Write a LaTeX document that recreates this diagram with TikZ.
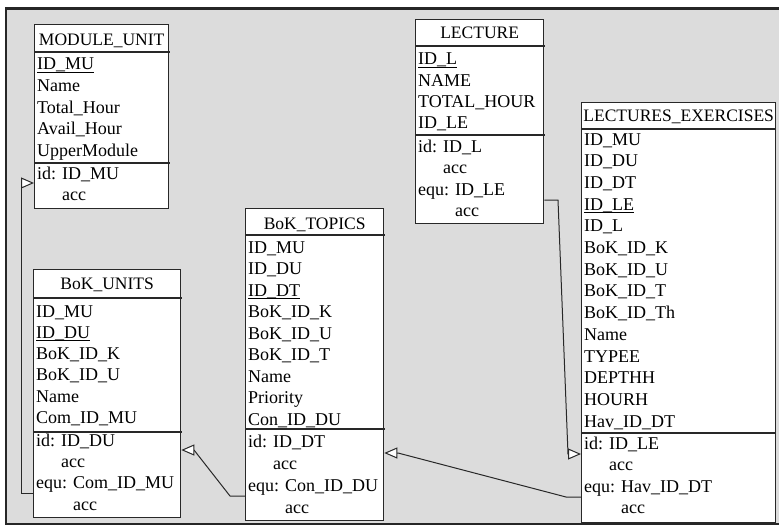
\documentclass[tikz,border=0pt]{standalone}
\usepackage{fontspec}
\setmainfont{Liberation Serif}
\usetikzlibrary{arrows.meta}
\newcommand\keyul[1]{\setbox0\hbox{#1}\rlap{\vrule height -1.6pt depth 2.7pt width \wd0}\box0}
\definecolor{bg}{RGB}{220,220,220}
\definecolor{ink}{RGB}{40,40,40}
\begin{document}
\begin{tikzpicture}[x=1pt,y=-1pt,
  tbl/.style={draw=ink, line width=1.3pt, fill=white, inner sep=0pt, anchor=north west},
  sepline/.style={draw=ink, line width=1.3pt},
  hdr/.style={anchor=base, inner sep=0pt, font=\fontsize{17.5}{21}\selectfont},
  row/.style={anchor=base west, inner sep=0pt, font=\fontsize{18}{21}\selectfont},
  link/.style={draw=ink, line width=1pt},
  tip/.style={-{Triangle[length=13pt,width=11pt,line width=1pt,fill=white]}},
]
\useasboundingbox (0,0) rectangle (779,527);
\fill[white] (0,0) rectangle (779,527);
\draw[line width=2.5pt, draw=black!85, fill=bg] (6,8.5) rectangle (795,524);

% MODULE_UNIT
\node[tbl, minimum width=134pt, minimum height=184pt] (mu) at (34,24) {};
\draw[sepline] (mu.west |- 0,52) -- ++(136,0);
\draw[sepline] (mu.west |- 0,163) -- ++(136,0);
\node[hdr] (mu-h) at (mu.north |- 0,46) {MODULE\_UNIT};
\foreach \t [count=\i from 0] in {\keyul{ID\_MU},Name,Total\_Hour,Avail\_Hour,UpperModule}
  \node[row] (mu-a\i) at (37,{70+\i*21.5}) {\t};
\node[row] (mu-k1) at (37,179) {id: ID\_MU};
\node[row] (mu-k2) at (37,200) {\hphantom{id: }acc};

% BoK_UNITS
\node[tbl, minimum width=147pt, minimum height=248pt] (bu) at (33,269) {};
\draw[sepline] (bu.west |- 0,298) -- ++(149,0);
\draw[sepline] (bu.west |- 0,432) -- ++(149,0);
\node[hdr] (bu-h) at (bu.north |- 0,289) {BoK\_UNITS};
\foreach \t [count=\i from 0] in {ID\_MU,\keyul{ID\_DU},BoK\_ID\_K,BoK\_ID\_U,Name,Com\_ID\_MU}
  \node[row] (bu-a\i) at (36,{317+\i*21.3}) {\t};
\node[row] (bu-k1) at (36,446) {id: ID\_DU};
\node[row] (bu-k2) at (36,467) {\hphantom{id: }acc};
\node[row] (bu-k3) at (36,488.5) {equ: Com\_ID\_MU};
\node[row] (bu-k4) at (36,510) {\hphantom{equ: }acc};

% BoK_TOPICS
\node[tbl, minimum width=138pt, minimum height=312pt] (bt) at (245,208) {};
\draw[sepline] (bt.west |- 0,235) -- ++(140,0);
\draw[sepline] (bt.west |- 0,429) -- ++(140,0);
\node[hdr] (bt-h) at (bt.north |- 0,229) {BoK\_TOPICS};
\foreach \t [count=\i from 0] in {ID\_MU,ID\_DU,\keyul{ID\_DT},BoK\_ID\_K,BoK\_ID\_U,BoK\_ID\_T,Name,Priority,Con\_ID\_DU}
  \node[row] (bt-a\i) at (248,{253+\i*21.5}) {\t};
\node[row] (bt-k1) at (248,447) {id: ID\_DT};
\node[row] (bt-k2) at (248,469) {\hphantom{id: }acc};
\node[row] (bt-k3) at (248,491) {equ: Con\_ID\_DU};
\node[row] (bt-k4) at (248,513) {\hphantom{equ: }acc};

% LECTURE
\node[tbl, minimum width=128pt, minimum height=204pt] (lec) at (415,19) {};
\draw[sepline] (lec.west |- 0,46) -- ++(130,0);
\draw[sepline] (lec.west |- 0,135) -- ++(130,0);
\node[hdr] (lec-h) at (lec.north |- 0,39) {LECTURE};
\foreach \t [count=\i from 0] in {\keyul{ID\_L},NAME,TOTAL\_HOUR,ID\_LE}
  \node[row] (lec-a\i) at (418,{65+\i*21.3}) {\t};
\node[row] (lec-k1) at (418,152) {id: ID\_L};
\node[row] (lec-k2) at (418,173.5) {\hphantom{id: }acc};
\node[row] (lec-k3) at (418,195) {equ: ID\_LE};
\node[row] (lec-k4) at (418,216) {\hphantom{equ: }acc};

% LECTURES_EXERCISES
\node[tbl, minimum width=194pt, minimum height=420pt] (le) at (581,102) {};
\draw[sepline] (le.west |- 0,129) -- ++(194,0);
\draw[sepline] (le.west |- 0,433) -- ++(194,0);
\node[hdr] (le-h) at (le.north |- 0,121) {LECTURES\_EXERCISES};
\foreach \t [count=\i from 0] in {ID\_MU,ID\_DU,ID\_DT,\keyul{ID\_LE},ID\_L,BoK\_ID\_K,BoK\_ID\_U,BoK\_ID\_T,BoK\_ID\_Th,Name,TYPEE,DEPTHH,HOURH,Hav\_ID\_DT}
  \node[row] (le-a\i) at (584,{145+\i*21.7}) {\t};
\node[row] (le-k1) at (584,449) {id: ID\_LE};
\node[row] (le-k2) at (584,470.5) {\hphantom{id: }acc};
\node[row] (le-k3) at (584,492) {equ: Hav\_ID\_DT};
\node[row] (le-k4) at (584,513.5) {\hphantom{equ: }acc};

% connectors
\draw[link,tip] (bu.west |- 0,493) -- (21,493) -- (21,183) -- (mu.west |- 0,183);
\draw[link,tip] (bt.west |- 0,496) -- (230,496) -- (194,450) -- (bu.east |- 0,450);
\draw[link,tip] (le.west |- 0,497) -- (566,497) -- (398,453) -- (bt.east |- 0,453);
\draw[link,tip] (lec.east |- 0,200) -- (558,200) -- (568,454) -- (le.west |- 0,454);
\end{tikzpicture}
\end{document}
